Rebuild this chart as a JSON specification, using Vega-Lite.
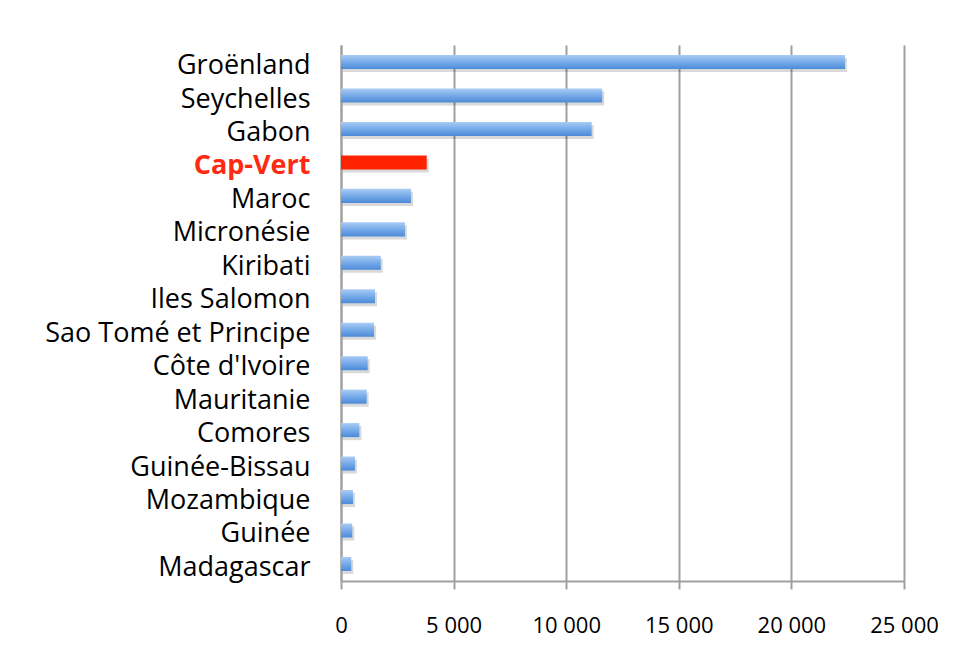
{
  "$schema": "https://vega.github.io/schema/vega-lite/v6.json",
  "autosize": "none",
  "width": 563,
  "height": 536,
  "padding": {"left": 341, "top": 45, "right": 49, "bottom": 76},
  "background": "white",
  "data": {
    "values": [
      {"pays": "Groënland", "valeur": 22380},
      {"pays": "Seychelles", "valeur": 11600},
      {"pays": "Gabon", "valeur": 11130},
      {"pays": "Cap-Vert", "valeur": 3805},
      {"pays": "Maroc", "valeur": 3110},
      {"pays": "Micronésie", "valeur": 2840},
      {"pays": "Kiribati", "valeur": 1765},
      {"pays": "Iles Salomon", "valeur": 1510},
      {"pays": "Sao Tomé et Principe", "valeur": 1465},
      {"pays": "Côte d'Ivoire", "valeur": 1185},
      {"pays": "Mauritanie", "valeur": 1140},
      {"pays": "Comores", "valeur": 815},
      {"pays": "Guinée-Bissau", "valeur": 620},
      {"pays": "Mozambique", "valeur": 535},
      {"pays": "Guinée", "valeur": 500},
      {"pays": "Madagascar", "valeur": 455}
    ]
  },
  "encoding": {
    "y": {
      "field": "pays",
      "type": "nominal",
      "sort": null,
      "scale": {"paddingInner": 0.58, "paddingOuter": 0.3},
      "axis": {
        "title": null,
        "ticks": false,
        "domain": true,
        "domainColor": "#a0a0a0",
        "domainWidth": 2,
        "labelPadding": 31,
        "labelLimit": 400,
        "labelBaseline": "middle",
        "labelOffset": 4,
        "labelFont": "Open Sans",
        "labelFontSize": 27,
        "labelColor": {"condition": {"test": "datum.value === 'Cap-Vert'", "value": "#ff2a12"}, "value": "#000000"},
        "labelFontWeight": {"condition": {"test": "datum.value === 'Cap-Vert'", "value": "bold"}, "value": "normal"}
      }
    },
    "x": {
      "field": "valeur",
      "type": "quantitative",
      "scale": {"domain": [0, 25000], "nice": false},
      "axis": {
        "title": null,
        "values": [0, 5000, 10000, 15000, 20000, 25000],
        "format": ",d",
        "labelExpr": "replace(datum.label, ',', ' ')",
        "grid": true,
        "gridColor": "#a0a0a0",
        "gridWidth": 2,
        "domainColor": "#a0a0a0",
        "domainWidth": 2,
        "tickColor": "#a0a0a0",
        "tickWidth": 2,
        "tickSize": 8,
        "labelPadding": 26,
        "labelFont": "Open Sans",
        "labelFontSize": 22,
        "labelColor": "#000000",
        "labelFlush": false
      }
    }
  },
  "layer": [
    {
      "mark": {"type": "bar", "color": "#000000", "opacity": 0.15, "xOffset": 2, "yOffset": 3},
      "encoding": {}
    },
    {
      "mark": {"type": "bar"},
      "encoding": {
        "fill": {
          "condition": {"test": "datum.pays === 'Cap-Vert'", "value": "#ff2200"},
          "value": {
            "gradient": "linear",
            "x1": 0, "y1": 0, "x2": 0, "y2": 1,
            "stops": [
              {"offset": 0, "color": "#a9ccf4"},
              {"offset": 0.5, "color": "#76aae9"},
              {"offset": 1, "color": "#4c8bd8"}
            ]
          }
        }
      }
    }
  ],
  "config": {"view": {"stroke": null}}
}
